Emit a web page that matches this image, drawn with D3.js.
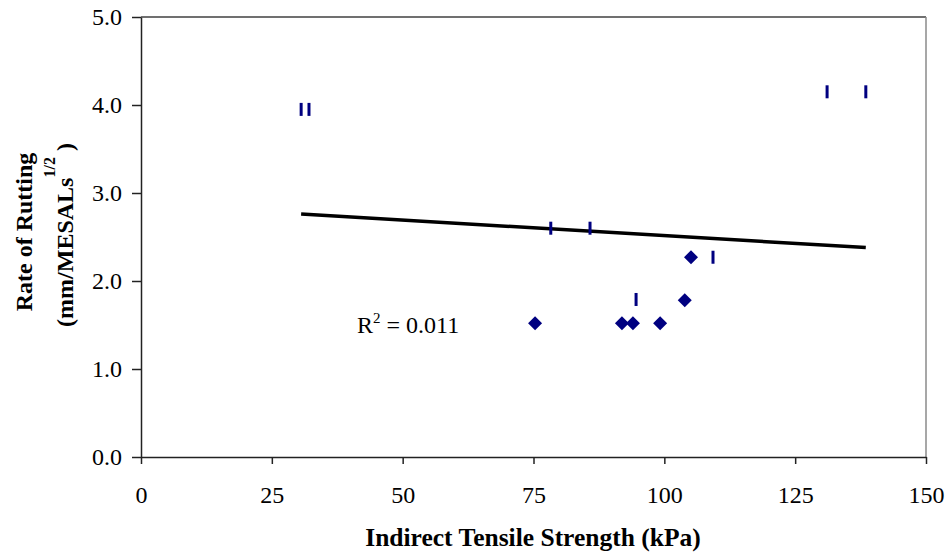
<!DOCTYPE html>
<html>
<head>
<meta charset="utf-8">
<script src="https://cdn.jsdelivr.net/npm/d3@7"></script>
<style>
  body { margin: 0; background: #fff; }
  svg { font-family: "Liberation Serif", "Times New Roman", serif; }
</style>
</head>
<body>
<svg width="948" height="554"></svg>
<script>
// **** Data ****
var diamondX = [75.3, 91.9, 94.0, 99.2, 103.9, 105.1];
var diamondY = [1.52, 1.52, 1.52, 1.52, 1.78, 2.27];

var dashX = [30.6, 32.1, 78.3, 85.8, 94.6, 109.3, 131.1, 138.5];
var dashY = [3.95, 3.95, 2.60, 2.60, 1.79, 2.27, 4.15, 4.15];

var trendX = [30.6, 138.5];
var trendY = [2.76, 2.38];

var xTicks = [0, 25, 50, 75, 100, 125, 150];
var yTicks = [0, 1, 2, 3, 4, 5];

// **** Scales ****
var xScale = d3.scaleLinear().domain([0, 150]).range([141, 926]);
var yScale = d3.scaleLinear().domain([0, 5]).range([457, 17]);

var svg = d3.select('svg');

// plot area border (top + right)
svg.append('line')
    .attr('x1', xScale(0)).attr('x2', xScale(150))
    .attr('y1', yScale(5)).attr('y2', yScale(5))
    .style('stroke', '#404040').style('stroke-width', 1.5);
svg.append('line')
    .attr('x1', xScale(150)).attr('x2', xScale(150))
    .attr('y1', yScale(5)).attr('y2', yScale(0))
    .style('stroke', '#8a8a8a').style('stroke-width', 1.5);

// axes
svg.append('g').attr('class', 'x axis')
    .attr('transform', 'translate(0,' + yScale(0) + ')')
    .call(d3.axisBottom(xScale).tickValues(xTicks).tickSize(7).tickSizeOuter(0).tickPadding(22));

svg.append('g').attr('class', 'y axis')
    .attr('transform', 'translate(' + xScale(0) + ',0)')
    .call(d3.axisLeft(yScale).tickValues(yTicks).tickSize(9).tickSizeOuter(0).tickPadding(10)
        .tickFormat(d3.format('.1f')));

svg.selectAll('.axis path, .axis line')
    .style('stroke', '#222').style('stroke-width', 1.5);
svg.selectAll('.axis text')
    .style('font-family', '"Liberation Serif", serif')
    .style('font-size', '24px')
    .style('fill', '#000');

// trend line
svg.append('line')
    .attr('x1', xScale(trendX[0])).attr('y1', yScale(trendY[0]))
    .attr('x2', xScale(trendX[1])).attr('y2', yScale(trendY[1]))
    .style('stroke', '#000').style('stroke-width', 3.5);

// dash markers
svg.append('g')
    .selectAll('rect')
    .data(dashX)
    .enter()
    .append('rect')
    .attr('x', function (d) { return xScale(d) - 1.5; })
    .attr('y', function (d, i) { return yScale(dashY[i]) - 6.5; })
    .attr('width', 3)
    .attr('height', 13)
    .style('fill', '#000080');

// diamond markers
svg.append('g')
    .selectAll('path')
    .data(diamondX)
    .enter()
    .append('path')
    .attr('transform', function (d, i) {
        return 'translate(' + xScale(d) + ',' + yScale(diamondY[i]) + ')';
    })
    .attr('d', 'M0,-7L7,0L0,7L-7,0Z')
    .style('fill', '#000080');

// R squared label
var r2 = svg.append('text')
    .attr('x', 357).attr('y', 333)
    .style('font-size', '24px');
r2.append('tspan').text('R');
r2.append('tspan').attr('dy', -10).style('font-size', '15px').text('2');
r2.append('tspan').attr('dy', 10).text(' = 0.011');

// axis titles
svg.append('text')
    .attr('x', 533).attr('y', 546)
    .attr('text-anchor', 'middle')
    .style('font-size', '25.5px')
    .style('font-weight', 'bold')
    .text('Indirect Tensile Strength (kPa)');

svg.append('text')
    .attr('transform', 'translate(32,232) rotate(-90)')
    .attr('text-anchor', 'middle')
    .style('font-size', '24px')
    .style('font-weight', 'bold')
    .text('Rate of Rutting');

var yt2 = svg.append('text')
    .attr('transform', 'translate(73,235) rotate(-90)')
    .attr('text-anchor', 'middle')
    .style('font-size', '24px')
    .style('font-weight', 'bold');
yt2.append('tspan').text('(mm/MESALs');
yt2.append('tspan').attr('dy', -18).style('font-size', '16px').text('1/2');
yt2.append('tspan').attr('dy', 18).text(' )');
</script>
</body>
</html>
